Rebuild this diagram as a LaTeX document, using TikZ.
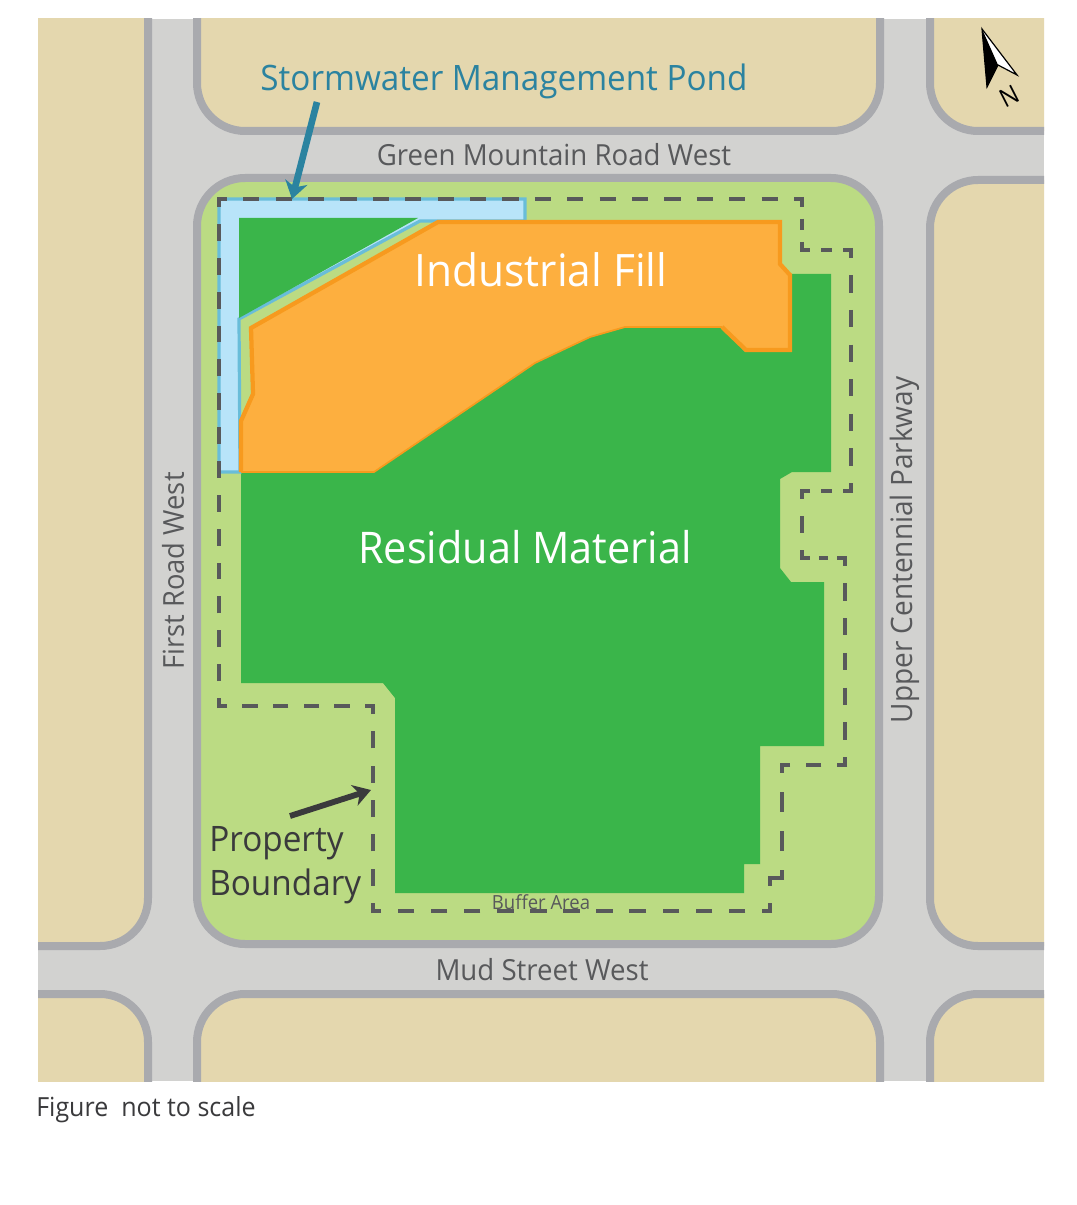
\documentclass[tikz,border=0pt]{standalone}
\usepackage{fontspec}
\setmainfont[FakeStretch=0.95]{Open Sans}
\usetikzlibrary{arrows.meta}
\definecolor{road}{HTML}{D2D2D0}
\definecolor{curb}{HTML}{A9AAAE}
\definecolor{tan}{HTML}{E4D7AE}
\definecolor{site}{HTML}{BBDB83}
\definecolor{resid}{HTML}{3AB54A}
\definecolor{fillo}{HTML}{FDAF3F}
\definecolor{edgeo}{HTML}{F79A1E}
\definecolor{pond}{HTML}{B8E4F9}
\definecolor{pondedge}{HTML}{69BDD9}
\definecolor{teal}{HTML}{2B83A0}
\definecolor{ink}{HTML}{58595B}
\definecolor{dark}{HTML}{3A3A3C}
\tikzset{
  blockshape/.style={draw=curb,fill=tan,line width=6pt,rounded corners=36pt},
  bdash/.style={draw=ink,line width=3.5pt},
  roadlabel/.style={text=ink,inner sep=0pt},
  biglabel/.style={text=white,inner sep=0pt},
}
\newcommand{\fsz}[1]{\fontsize{#1}{#1}\selectfont}
\begin{document}
\begin{tikzpicture}[x=0.75pt,y=-0.75pt]
\useasboundingbox (0,0) rectangle (1076,1205);
\fill[white] (0,0) rectangle (1076,1205);
\fill[road] (38,19) rectangle (1044,1081);
% blocks, clipped to the map so that only their inner edges show
\begin{scope}
\clip (38,19) rectangle (1044,1081);
\draw[blockshape] (-100,-100) -- (148,-100) -- (148,946) -- (-100,946) -- cycle;
\draw[blockshape] (197,-100) -- (197,131) -- (880,131) -- (880,-100) -- cycle;
\draw[blockshape] (930,-100) -- (930,131) -- (1200,131) -- (1200,-100) -- cycle;
\draw[blockshape] (1200,180) -- (930,180) -- (930,946) -- (1200,946) -- cycle;
\draw[blockshape] (-100,994) -- (148,994) -- (148,1200) -- (-100,1200) -- cycle;
\draw[blockshape] (197,1200) -- (197,994) -- (880,994) -- (880,1200) -- cycle;
\draw[blockshape] (930,1200) -- (930,994) -- (1200,994) -- (1200,1200) -- cycle;
\end{scope}
% site
\draw[blockshape,fill=site] (197,560) -- (197,178) -- (879,178) -- (879,944) -- (197,944) -- cycle;
% residual
\fill[resid] (241,472) -- (374,472) -- (535,363) -- (590,337) -- (625,327) -- (722,327) -- (745,352) -- (791,352) -- (791,274) -- (831,274) -- (831,472) -- (792,472) -- (780,479) -- (780,568) -- (791,582) -- (824,582) -- (824,746) -- (760,746) -- (760,864) -- (744,864) -- (744,893) -- (395,893) -- (395,698) -- (383,683) -- (241,683) -- cycle;
% pond
\draw[draw=pondedge,fill=pond,line width=2.4pt,line join=miter] (219,199) -- (525,199) -- (525,221) -- (420,221) -- (239,319) -- (240,472) -- (219,472) -- cycle;
\fill[resid] (239,218) -- (418,218) -- (239,318) -- cycle;
% fill
\fill[fillo] (438,222) -- (780,222) -- (780,262) -- (790,274) -- (790,350) -- (746,350) -- (722,327) -- (625,327) -- (590,337) -- (535,363) -- (374,472) -- (241,472) -- (241,421) -- (253,394) -- (251,328) -- cycle;
\draw[edgeo,line width=1.3pt] (722,327) -- (625,327) -- (590,337) -- (535,363) -- (374,472) -- (241,472);
\draw[edgeo,line width=3.2pt,line join=miter] (241,472) -- (241,421) -- (253,394) -- (251,328) -- (438,222) -- (780,222) -- (780,264) -- (790,275) -- (790,350) -- (746,350) -- (722,327);
% boundary
\foreach \xa/\ya/\xb/\yb/\cnt in {
  219/199/802/199/17, 802/199/802/250/1, 802/250/851/250/1, 851/250/851/491/6,
  851/491/802/491/1, 802/491/802/558/1, 802/558/845/558/1, 845/558/845/765/5,
  845/765/782/765/1, 782/765/782/878/2, 770/878/770/911/0, 770/911/373/911/11,
  373/911/373/706/5, 373/706/219/706/4, 219/706/219/199/14}{
  \pgfmathsetmacro\seglen{abs(\xb-\xa)+abs(\yb-\ya)}
  \pgfmathsetmacro\dl{(\seglen-16)/(2*\cnt+1)*0.75}
  \pgfmathsetmacro\ph{3*\dl-7.5}
  \draw[bdash,dash pattern=on \dl pt off \dl pt,dash phase=\ph pt,shorten <=-1.5pt,shorten >=-1.5pt] (\xa,\ya) -- (\xb,\yb);
}
\draw[bdash] (784,878) -- (770,878);
% labels
\node[text=teal,font=\fsz{26.25},inner sep=0pt] (pondlabel) at (504,81) {Stormwater Management Pond};
\node[roadlabel,font=\fsz{21.8}] (green) at (554,155) {Green Mountain Road West};
\node[roadlabel,font=\fsz{21.8}] (mud) at (542,970) {Mud Street West};
\node[roadlabel,rotate=90,font=\fsz{21.6}] (first) at (173,571) {First Road West};
\node[roadlabel,rotate=90,font=\fsz{22.1}] (upper) at (905,550) {Upper Centennial Parkway};
\node[biglabel,font=\fsz{33.5}] (ind) at (541,270) {Industrial Fill};
\node[biglabel,font=\fsz{32.7}] (res) at (525,547) {Residual Material};
\node[text=dark,font=\fontsize{26.3}{33}\selectfont,inner sep=0pt,align=left,anchor=north west] (prop) at (209,826) {Property\\Boundary};
\node[text=ink,font=\fsz{14.6},inner sep=0pt] (buffer) at (541,902) {Buffer Area};
\node[text=dark,font=\fsz{19.75},inner sep=0pt,anchor=west] (note) at (36,1110) {Figure\ \ not to scale};
% arrows
\coordinate (pondtail) at (317,102);
\coordinate (pondtip) at (292,199);
\coordinate (proptail) at (290,816);
\coordinate (proptip) at (371,790);
\draw[teal,line width=5pt,-{Stealth[length=13pt,width=17pt,inset=4pt]}] (pondtail) -- (pondtip);
\draw[dark,line width=4.4pt,-{Stealth[length=13pt,width=16pt,inset=4pt]}] (proptail) -- (proptip);
% north arrow
\fill[white] (982,29) -- (1017,75) -- (998,65) -- cycle;
\fill[black] (982,29) -- (998,65) -- (987,87) -- cycle;
\draw[black,line width=0.9pt,line join=miter] (982,29) -- (1017,75) -- (998,65) -- (987,87) -- cycle;
\node[rotate=27,text=black,font=\fsz{19},inner sep=0pt] (north) at (1009,96) {N};
\end{tikzpicture}
\end{document}
